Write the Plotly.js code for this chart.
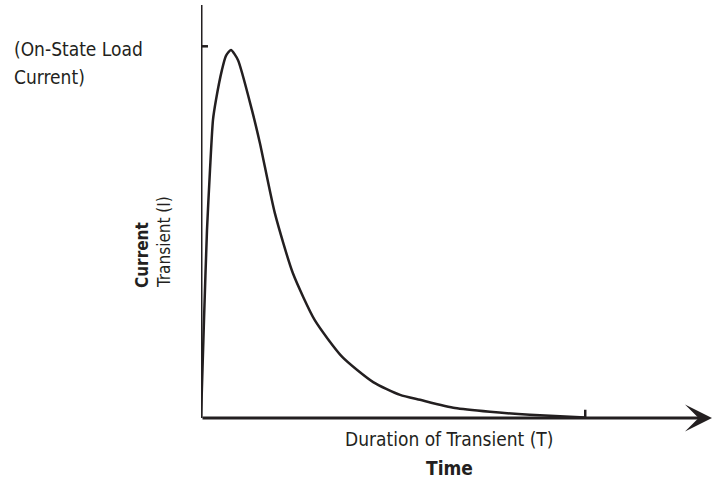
<!DOCTYPE html>
<html>
<head>
<meta charset="utf-8">
<script src="https://cdn.plot.ly/plotly-3.0.1.min.js"></script>
<style>html,body{margin:0;padding:0;background:#fff;}#chart{width:712px;height:485px;}</style>
</head>
<body>
<div id="chart"></div>
<script>
// Time (relative units) and transient current (relative units)
var timeVals = [0, 0.6, 1.2, 1.8, 2.4, 3.0, 4.2, 5.0, 6.0, 7.4, 10.2, 11.8, 14.8, 18.4, 22.8, 28.3, 34.5, 39.9, 43.9, 50.9, 57.9, 65.9, 77.0];
var currentVals = [0, 23.7, 45.5, 60.0, 72.2, 77.0, 84.3, 87.7, 89.1, 86.7, 74.6, 66.6, 49.6, 35.1, 23.7, 14.8, 8.7, 5.6, 4.4, 2.4, 1.5, 0.8, 0.1];
// Marked levels on the axes
var loadCurrentLevel = 90;   // on-state load current
var transientDuration = 77;  // duration of transient (T)

var ink = '#231f20';
var fontFam = '"Liberation Sans Narrow", "DejaVu Sans Condensed", "Roboto", sans-serif';

var trace = {
  x: timeVals, y: currentVals, mode: 'lines', type: 'scatter',
  line: {color: ink, width: 2.5, shape: 'spline', smoothing: 0.6},
  hoverinfo: 'skip', cliponaxis: false
};

var layout = {
  width: 712, height: 485,
  margin: {l: 201, r: 12, t: 5, b: 67},
  paper_bgcolor: '#fff', plot_bgcolor: '#fff',
  showlegend: false,
  xaxis: {range: [0, 100], showgrid: false, zeroline: false, showticklabels: false, ticks: '', showline: false, fixedrange: true},
  yaxis: {range: [0, 100], showgrid: false, zeroline: false, showticklabels: false, ticks: '', showline: false, fixedrange: true},
  shapes: [
    // vertical axis
    {type: 'line', xref: 'x', yref: 'y', x0: 0, x1: 0, y0: 0, y1: 100, line: {color: ink, width: 3}},
    // y tick at load current level
    {type: 'line', xref: 'x', yref: 'y', x0: -1.6, x1: 1.4, y0: loadCurrentLevel, y1: loadCurrentLevel, line: {color: ink, width: 2.5}},
    // x tick at transient duration
    {type: 'line', xref: 'x', yref: 'y', x0: transientDuration, x1: transientDuration, y0: -1.8, y1: 2.0, line: {color: ink, width: 2.5}}
  ],
  annotations: [
    // horizontal axis with arrow
    {x: 102.4, y: 0, xref: 'x', yref: 'y', ax: 0, ay: 0, axref: 'x', ayref: 'y', text: '', showarrow: true,
     arrowhead: 3, arrowsize: 1.5, arrowwidth: 3, arrowcolor: ink, standoff: 0, startstandoff: 0},
    {xref: 'paper', yref: 'paper', x: (12 - 201) / 499, y: (418 - 49) / 413, xanchor: 'left', yanchor: 'middle',
     text: '(On-State Load', showarrow: false, font: {family: fontFam, size: 19, color: ink}},
    {xref: 'paper', yref: 'paper', x: (12 - 201) / 499, y: (418 - 77) / 413, xanchor: 'left', yanchor: 'middle',
     text: 'Current)', showarrow: false, font: {family: fontFam, size: 19, color: ink}},
    {xref: 'paper', yref: 'paper', x: (142 - 201) / 499, y: (418 - 255) / 413, xanchor: 'center', yanchor: 'middle',
     text: '<b>Current</b>', textangle: -90, showarrow: false, font: {family: fontFam, size: 17, color: ink}},
    {xref: 'paper', yref: 'paper', x: (164 - 201) / 499, y: (418 - 242) / 413, xanchor: 'center', yanchor: 'middle',
     text: 'Transient (I)', textangle: -90, showarrow: false, font: {family: fontFam, size: 17, color: ink}},
    {xref: 'paper', yref: 'paper', x: (449 - 201) / 499, y: (418 - 439) / 413, xanchor: 'center', yanchor: 'middle',
     text: 'Duration of Transient (T)', showarrow: false, font: {family: fontFam, size: 19, color: ink}},
    {xref: 'paper', yref: 'paper', x: (449 - 201) / 499, y: (418 - 468) / 413, xanchor: 'center', yanchor: 'middle',
     text: '<b>Time</b>', showarrow: false, font: {family: fontFam, size: 19, color: ink}}
  ]
};

Plotly.newPlot('chart', [trace], layout, {staticPlot: true, displayModeBar: false});
</script>
</body>
</html>
